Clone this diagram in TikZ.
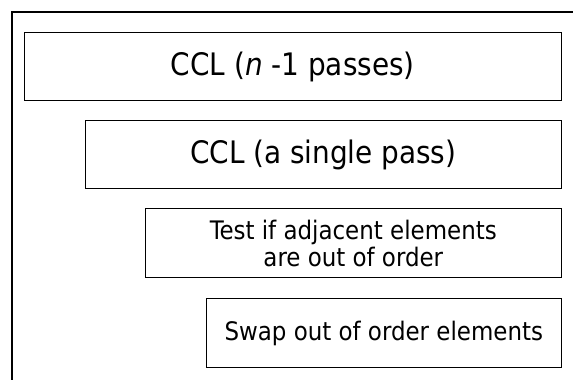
\documentclass[tikz,border=0pt]{standalone}
\usepackage{fontspec}
\setmainfont{DejaVu Sans Condensed}
\usepackage{tikz}
\usetikzlibrary{positioning}

\begin{document}
\begin{tikzpicture}[
  x=1pt, y=-1pt,
  step box/.style={draw, line width=1.4pt, minimum height=68pt, anchor=north east, inner sep=0pt, align=center},
  big text/.style={font=\fontsize{31}{35}\selectfont},
  small text/.style={font=\fontsize{25.5}{27}\selectfont}
]
\useasboundingbox (0,0) rectangle (573,380);

% Outer frame (runs off the page to the right and bottom)
\coordinate (FB) at (12,380);
\coordinate (FC) at (12,12);
\coordinate (FR) at (573,12);
\draw[line width=1.4pt] (FB) -- (FC) -- (FR);

% Nested steps, all flush right
\node[step box, big text, minimum width=537pt] (outer) at (562,32) {CCL (\textit{n} -1 passes)};
\node[step box, big text, minimum width=476pt] (pass)  at (562,120) {CCL (a single pass)};
\node[step box, small text, minimum width=416pt, minimum height=69pt] (test) at (562,208) {Test if adjacent elements\\are out of order};
\node[step box, small text, minimum width=355pt, minimum height=69pt] (swap) at (562,298) {Swap out of order elements};

\end{tikzpicture}
\end{document}
